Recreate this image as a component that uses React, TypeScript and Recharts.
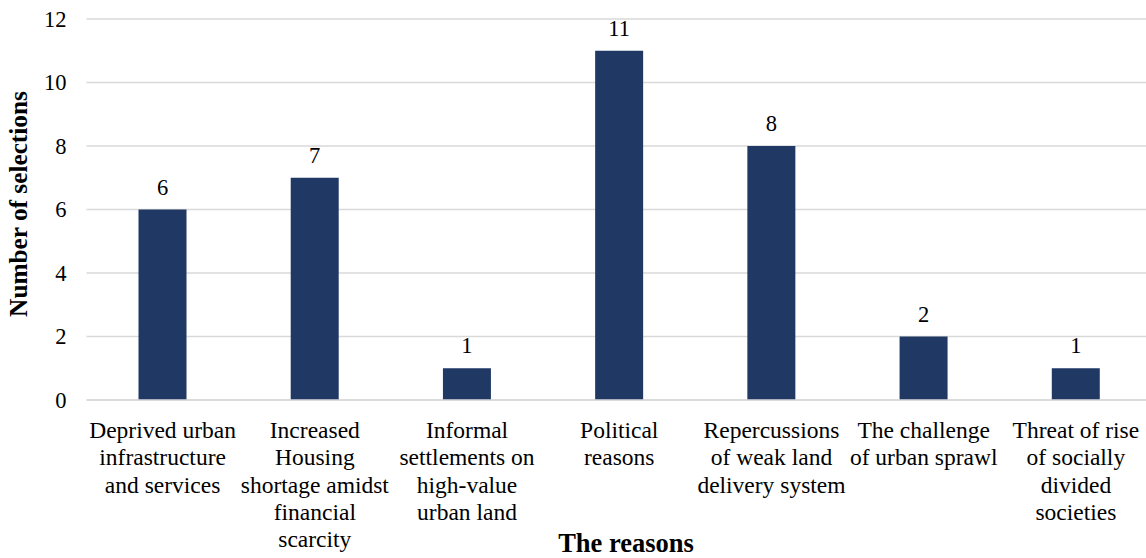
import { BarChart, Bar, XAxis, YAxis, CartesianGrid, LabelList, Label } from 'recharts';

// reasons on the x axis, "\n" marks where each label wraps
const CATEGORIES = [
  'Deprived urban\ninfrastructure\nand services',
  'Increased\nHousing\nshortage amidst\nfinancial\nscarcity',
  'Informal\nsettlements on\nhigh-value\nurban land',
  'Political\nreasons',
  'Repercussions\nof weak land\ndelivery system',
  'The challenge\nof urban sprawl',
  'Threat of rise\nof socially\ndivided\nsocieties',
];
const SELECTIONS = [6, 7, 1, 11, 8, 2, 1];
const Y_TICKS = [0, 2, 4, 6, 8, 10, 12];

const data = CATEGORIES.map((name, i) => ({ name, value: SELECTIONS[i] }));

const FONT = '"Liberation Serif", "Times New Roman", serif';
const BAR_COLOR = '#203864';

function CategoryTick({ x, y, payload }: any) {
  const lines = String(payload.value).split('\n');
  return (
    <text x={x} y={y} textAnchor="middle" fontFamily={FONT} fontSize={23.5} fill="#000">
      {lines.map((line, i) => (
        <tspan key={i} x={x} dy={i === 0 ? 30 : 27.3}>
          {line}
        </tspan>
      ))}
    </text>
  );
}

export default function App() {
  return (
    <div style={{ position: 'absolute', left: 0, top: 0, width: 1146, height: 558, overflow: 'hidden', background: '#fff' }}>
      <BarChart
        width={1152}
        height={558}
        data={data}
        margin={{ top: 19, right: 0, left: 0, bottom: 0 }}
        barSize={48}
      >
        <CartesianGrid vertical={false} stroke="#d9d9d9" strokeWidth={1.5} />
        <XAxis
          dataKey="name"
          axisLine={{ stroke: '#d9d9d9', strokeWidth: 1.5 }}
          tickLine={false}
          interval={0}
          height={158}
          tick={<CategoryTick />}
        >
          <Label
            content={() => (
              <text x={626} y={552} textAnchor="middle" fontFamily={FONT} fontSize={26.5} fontWeight="bold" fill="#000">
                The reasons
              </text>
            )}
          />
        </XAxis>
        <YAxis
          domain={[0, 12]}
          ticks={Y_TICKS}
          axisLine={false}
          tickLine={false}
          width={86.5}
          tickMargin={14}
          tick={{ fontFamily: FONT, fontSize: 22.5, fill: '#000' }}
        >
          <Label
            content={() => (
              <text
                x={27}
                y={204}
                textAnchor="middle"
                transform="rotate(-90 27 204)"
                fontFamily={FONT}
                fontSize={25.3}
                fontWeight="bold"
                fill="#000"
              >
                Number of selections
              </text>
            )}
          />
        </YAxis>
        <Bar dataKey="value" fill={BAR_COLOR} isAnimationActive={false}>
          <LabelList dataKey="value" position="top" offset={15} fontFamily={FONT} fontSize={22.5} fill="#000" />
        </Bar>
      </BarChart>
    </div>
  );
}
